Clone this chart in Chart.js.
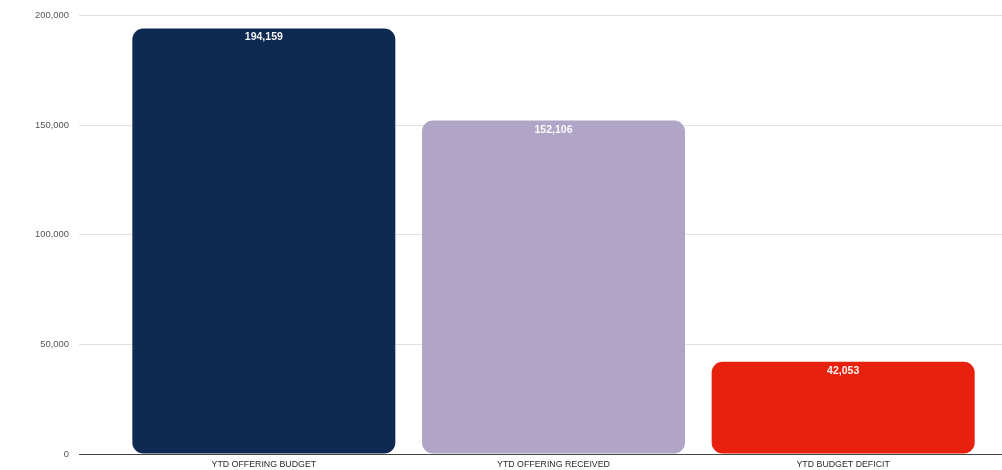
<!DOCTYPE html>
<html>
<head>
<meta charset="utf-8">
<script src="https://cdn.jsdelivr.net/npm/chart.js@4.4.1/dist/chart.umd.min.js"></script>
<style>
  html, body { margin: 0; padding: 0; background: #fff; }
  #wrap { width: 1002px; height: 470px; position: relative; }
</style>
</head>
<body>
<div id="wrap"><canvas id="budgetChart"></canvas></div>
<script>
// Chart data
const categories = ['YTD OFFERING BUDGET', 'YTD OFFERING RECEIVED', 'YTD BUDGET DEFICIT'];
const amounts = [194159, 152106, 42053];
const barColors = ['#0f2a52', '#b0a5c6', '#e8200e'];
const yTicks = [0, 50000, 100000, 150000, 200000];

const fmt = v => v.toLocaleString('en-US');

// value labels just inside the top of each bar
const valueLabels = {
    id: 'valueLabels',
    afterDatasetsDraw(chart) {
        const ctx = chart.ctx;
        const meta = chart.getDatasetMeta(0);
        ctx.save();
        ctx.fillStyle = 'rgba(255,255,255,0.95)';
        ctx.font = 'bold 10.5px "Liberation Sans", Arial, sans-serif';
        ctx.textAlign = 'center';
        ctx.textBaseline = 'middle';
        meta.data.forEach((bar, i) => {
            ctx.fillText(fmt(amounts[i]), bar.x, bar.y + 9);
        });
        ctx.restore();
    }
};

// carry the horizontal grid lines on to the right edge of the canvas
const gridToEdge = {
    id: 'gridToEdge',
    beforeDatasetsDraw(chart) {
        const ctx = chart.ctx;
        const y = chart.scales.y;
        const area = chart.chartArea;
        ctx.save();
        y.ticks.forEach(t => {
            const py = Math.round(y.getPixelForValue(t.value) - 0.5) + 0.5;
            ctx.strokeStyle = t.value === 0 ? '#444444' : '#e2e2e2';
            ctx.lineWidth = 1;
            ctx.beginPath();
            ctx.moveTo(area.right - 1, py);
            ctx.lineTo(chart.width, py);
            ctx.stroke();
        });
        ctx.restore();
    }
};

const ctx = document.getElementById('budgetChart').getContext('2d');
new Chart(ctx, {
    type: 'bar',
    data: {
        labels: categories,
        datasets: [{
            data: amounts,
            backgroundColor: barColors,
            borderRadius: 11,
            borderSkipped: false,
            barPercentage: 0.908,
            categoryPercentage: 1.0
        }]
    },
    options: {
        responsive: true,
        maintainAspectRatio: false,
        animation: false,
        layout: { padding: { top: 14, right: 14, bottom: 0, left: 0 } },
        plugins: {
            legend: { display: false },
            tooltip: { enabled: false }
        },
        scales: {
            x: {
                grid: { display: false, drawTicks: false },
                border: { display: true, color: '#444444', width: 1 },
                ticks: {
                    color: '#2a2a2a',
                    padding: 5,
                    maxRotation: 0,
                    font: { family: '"Liberation Sans", Arial, sans-serif', size: 8.8 }
                },
                afterFit(scale) { scale.height = 16; }
            },
            y: {
                min: 0,
                max: 200000,
                afterBuildTicks(scale) {
                    scale.ticks = yTicks.map(v => ({ value: v }));
                },
                grid: {
                    color: c => (c.tick && c.tick.value === 0) ? '#444444' : '#e2e2e2',
                    tickLength: 40,
                    drawTicks: true
                },
                border: { display: false },
                ticks: {
                    color: '#555555',
                    padding: 10,
                    font: { family: '"Liberation Sans", Arial, sans-serif', size: 9.4 },
                    callback: v => fmt(v)
                },
                afterFit(scale) { scale.width = 119; }
            }
        }
    },
    plugins: [valueLabels, gridToEdge]
});
</script>
</body>
</html>
